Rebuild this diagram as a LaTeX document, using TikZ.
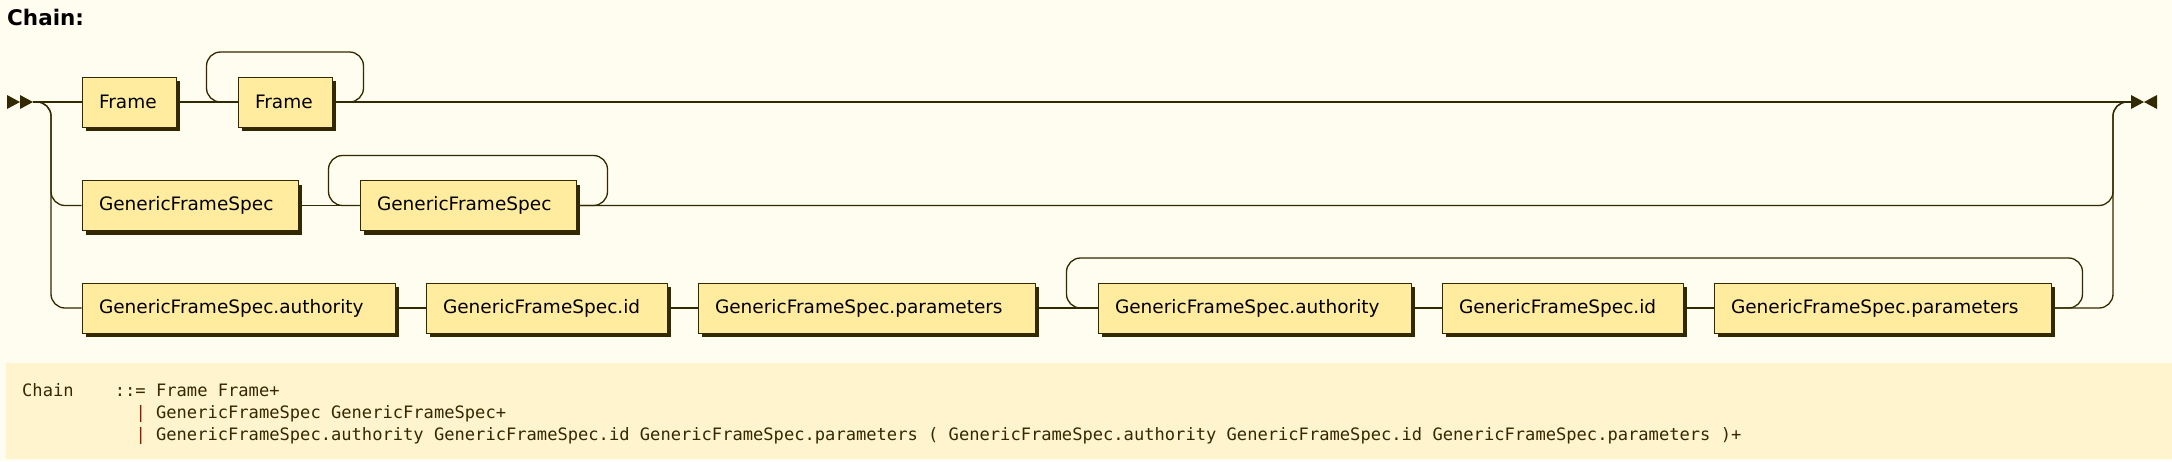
\documentclass[tikz,border=0pt]{standalone}
\usepackage{fontspec}
\setmainfont{DejaVu Sans}
\setmonofont{DejaVu Sans Mono}
\usetikzlibrary{calc,shadows}
\definecolor{rrback}{HTML}{FFFCF0}
\definecolor{rrfill}{HTML}{FFEC9E}
\definecolor{rrline}{HTML}{332900}
\definecolor{rrpanel}{HTML}{FFF4CE}
\definecolor{rrpipe}{HTML}{882000}
\tikzset{
  nonterm/.style={draw=rrline, line width=1pt, fill=rrfill, inner xsep=17pt, inner ysep=0pt,
    minimum height=50pt, align=left, font=\fontsize{18.5}{22}\selectfont,
    drop shadow={shadow xshift=4pt, shadow yshift=-4pt, fill=rrline, opacity=1}},
  track/.style={draw=rrline, line width=1.3pt, rounded corners=14pt},
  codeline/.style={anchor=base west, inner sep=0pt, text=rrline,
    font=\ttfamily\fontsize{17.1}{22}\selectfont}
}
\begin{document}
\begin{tikzpicture}[x=1pt,y=-1pt]
			%%%%% BACKGROUND %%%%%
			\fill[rrback] (0,0) rectangle (2172,461);
			\useasboundingbox (0,0) rectangle (2172,461);
			
			\node[anchor=base west, inner sep=0pt, font=\bfseries\fontsize{21.5}{24}\selectfont] (title) at (7,25) {Chain:};
			
			%%%%% BOXES %%%%%
			\node[nonterm, text width=60pt] (f1) at (129,102) {Frame};
			\node[nonterm, text width=60pt] (f2) at (285,102) {Frame};
			
			\node[nonterm, text width=182pt] (g1) at (190,205.5) {GenericFrameSpec};
			\node[nonterm, text width=182pt] (g2) at (468,205.5) {GenericFrameSpec};
			
			\node[nonterm, text width=279pt] (a1) at (238.5,308) {GenericFrameSpec.authority};
			\node[nonterm, text width=207pt] (i1) at (546.5,308) {GenericFrameSpec.id};
			\node[nonterm, text width=303pt] (p1) at (866.5,308) {GenericFrameSpec.parameters};
			\node[nonterm, text width=279pt] (a2) at (1254.5,308) {GenericFrameSpec.authority};
			\node[nonterm, text width=207pt] (i2) at (1562.5,308) {GenericFrameSpec.id};
			\node[nonterm, text width=303pt] (p2) at (1882.5,308) {GenericFrameSpec.parameters};
			
			%%%%% START / END %%%%%
			\coordinate (start) at (33,102);
			\coordinate (split) at (51,102);
			\coordinate (join) at (2113,102);
			\coordinate (finish) at (2131,102);
			
			\fill[rrline] (7,95) -- (20,102) -- (7,109) -- cycle;
			\fill[rrline] (20,95) -- (33,102) -- (20,109) -- cycle;
			\fill[rrline] (2131,95) -- (2144,102) -- (2131,109) -- cycle;
			\fill[rrline] (2157,95) -- (2144,102) -- (2157,109) -- cycle;
			
			%%%%% TRACKS %%%%%
			\draw[track] (start) -- (f1);
			\draw[track] (f1) -- (f2);
			\draw[track] (f2) -- (finish);
			\draw[track] (f2.east) -| ($(f2.east)+(31,-50)$) -| ($(f2.west)+(-31,0)$) -- (f2.west);
			
			\draw[track] (start) -- (split) |- (g1.west);
			\draw[track] (g1) -- (g2);
			\draw[track] (g2.east) -| ($(g2.east)+(31,-50)$) -| ($(g2.west)+(-31,0)$) -- (g2.west);
			\draw[track] (g2.east) -| (join) -- (finish);
			
			\draw[track] (start) -- (split) |- (a1.west);
			\draw[track] (a1) -- (i1);
			\draw[track] (i1) -- (p1);
			\draw[track] (p1) -- (a2);
			\draw[track] (a2) -- (i2);
			\draw[track] (i2) -- (p2);
			\draw[track] (p2.east) -| ($(p2.east)+(31,-50)$) -| ($(a2.west)+(-31,0)$) -- (a2.west);
			\draw[track] (p2.east) -| (join) -- (finish);
			
			%%%%% EBNF PANEL %%%%%
			\fill[rrpanel] (6,363) rectangle (2172,459);
			\node[codeline] (lhs) at (22,396) {Chain};
			\node[codeline] (alt1) at (114.7,396) {::= Frame Frame+};
			\node[codeline] (alt2) at (135.3,418) {\textcolor{rrpipe}{|} GenericFrameSpec GenericFrameSpec+};
			\node[codeline] (alt3) at (135.3,440) {\textcolor{rrpipe}{|} GenericFrameSpec.authority GenericFrameSpec.id GenericFrameSpec.parameters ( GenericFrameSpec.authority GenericFrameSpec.id GenericFrameSpec.parameters )+};
			
\end{tikzpicture}
\end{document}
